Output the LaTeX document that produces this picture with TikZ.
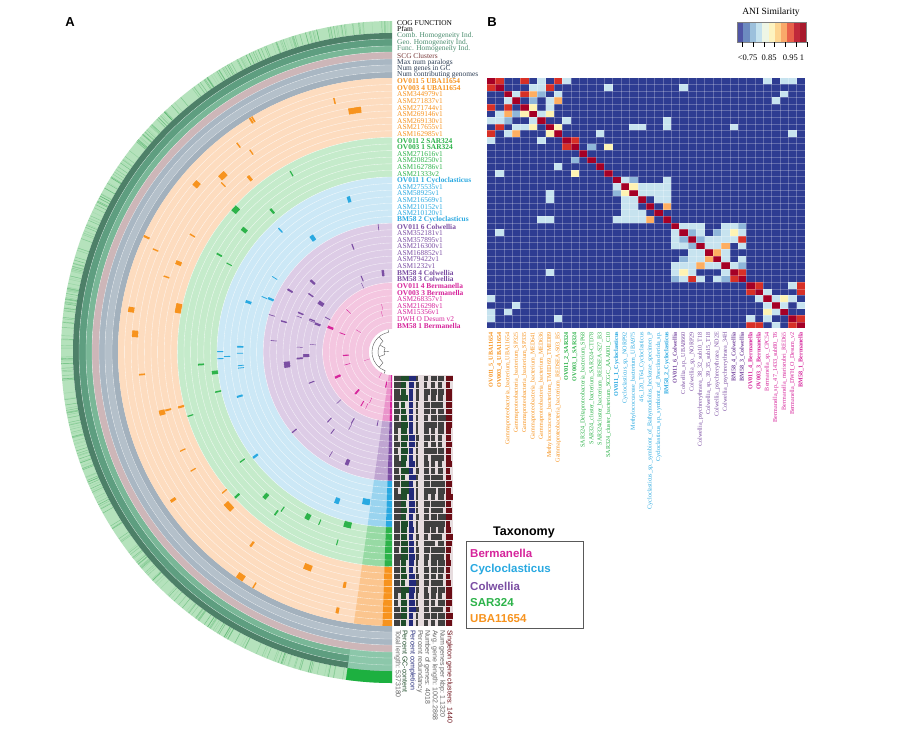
\documentclass[tikz,border=0pt]{standalone}
\usepackage{fontspec}
\setmainfont{Liberation Serif}
\setsansfont{Liberation Sans}
\definecolor{c0}{HTML}{F7931E}\definecolor{l0}{HTML}{FDDCBF}
\definecolor{c1}{HTML}{2DB34A}\definecolor{l1}{HTML}{C5EBCB}
\definecolor{c2}{HTML}{29A9E1}\definecolor{l2}{HTML}{CCE8F6}
\definecolor{c3}{HTML}{7B4EA3}\definecolor{l3}{HTML}{DDCCE6}
\definecolor{c4}{HTML}{D6249B}\definecolor{l4}{HTML}{F4C6E0}
\definecolor{navyh}{HTML}{2E3C92}
\definecolor{hlb}{HTML}{C7E3EF}\definecolor{hmb}{HTML}{8FB6D9}
\definecolor{hy}{HTML}{FEF3B3}\definecolor{ho}{HTML}{FDAE61}
\definecolor{hr}{HTML}{D73027}\definecolor{hdr}{HTML}{A50026}
\definecolor{teal}{HTML}{4A8D6E}\definecolor{slate}{HTML}{2D3E55}
\definecolor{maroonb}{HTML}{6B0D16}\definecolor{navyb}{HTML}{232A7A}
\definecolor{dgreenb}{HTML}{1F4D2A}
\definecolor{ga}{HTML}{4D8068}\definecolor{gb}{HTML}{5E9E80}\definecolor{gc}{HTML}{79B797}
\definecolor{scg}{HTML}{CDB6B8}\definecolor{gra}{HTML}{A9B7C3}\definecolor{grb}{HTML}{B4C0CA}
\definecolor{grc}{HTML}{A3B1BD}\definecolor{bgreen}{HTML}{1DB040}\definecolor{lgreen}{HTML}{8CC7AA}
\definecolor{scgt}{HTML}{7A3B3B}\definecolor{darkg}{HTML}{404040}\definecolor{barbg}{HTML}{E6DCDE}
\definecolor{outerbg}{HTML}{B5E2BC}\definecolor{outerln}{HTML}{3AA655}
\tikzset{
 rowlab/.style={anchor=west,inner sep=0pt,font=\fontsize{7.4}{7.4}\selectfont},
 collab/.style={anchor=east,rotate=90,inner sep=0pt,font=\fontsize{6.1}{6.1}\selectfont},
 barlab/.style={anchor=west,rotate=-90,inner sep=0pt,font=\sffamily\fontsize{7}{7}\selectfont},
 taxlab/.style={anchor=west,inner sep=0pt,font=\sffamily\bfseries\fontsize{11.5}{11.5}\selectfont},
 panel/.style={inner sep=0pt,font=\sffamily\bfseries\fontsize{13}{13}\selectfont}
}
\newcommand{\sect}[5]{\fill[#5] (-#1:#4) arc[start angle=-#1,end angle=-#2,radius=#4] -- (-#2:#3) arc[start angle=-#2,end angle=-#1,radius=#3] -- cycle;}
\begin{document}
\begin{tikzpicture}[x=1pt,y=-1pt]
\useasboundingbox (0,0) rectangle (900,740);
\fill[white] (0,0) rectangle (900,740);
\pgfmathsetseed{7}
% ================= panel A rings
\begin{scope}[shift={(392,352)}]
 \sect{90}{270}{319}{331}{outerbg}
 \foreach \k in {1,...,420}{
   \pgfmathsetmacro\a{90+180*rnd}
   \pgfmathsetmacro\o{0.1+0.45*rnd}
   \draw[outerln,opacity=\o,line width=0.45] (-\a:319) -- (-\a:331);
 }
 \sect{90}{270}{313}{319}{ga}
 \sect{90}{270}{306}{313}{gb}
 \sect{90}{270}{300}{306}{gc}
 \sect{90}{270}{293}{300}{scg}
 \sect{90}{270}{287}{293}{gra}
 \sect{90}{270}{280}{287}{grb}
 \sect{90}{270}{274}{280}{grc}
 \sect{262}{270}{319}{331}{bgreen}
 \sect{262}{270}{300}{319}{lgreen}
 \foreach \r in {280,287,293,300,306,313}{\draw[white,opacity=0.6,line width=0.3] (-90:\r) arc[start angle=-90,end angle=-270,radius=\r];}
 \sect{90}{270}{214.6}{274}{l0}
 \sect{90}{270}{175}{214.6}{l1}
 \sect{90}{270}{128.8}{175}{l2}
 \sect{90}{270}{69.4}{128.8}{l3}
 \sect{90}{270}{23.2}{69.4}{l4}
 \foreach \i in {0,...,37}{
   \pgfmathtruncatemacro\cl{(\i>8)+(\i>14)+(\i>21)+(\i>30)}
   \pgfmathsetmacro\ro{274-6.6*\i}\pgfmathsetmacro\ri{\ro-6.6}
   \sect{268}{270}{\ri}{\ro}{c\cl}
   \sect{262}{268}{\ri}{\ro}{c\cl,opacity=0.3}
 }
 \foreach \k in {1,...,120}{
   \pgfmathtruncatemacro\i{random(0,37)}
   \pgfmathsetmacro\a{95+165*rnd}
   \pgfmathsetmacro\sp{0.3+3.0*rnd^4}
   \pgfmathtruncatemacro\cl{(\i>8)+(\i>14)+(\i>21)+(\i>30)}
   \pgfmathsetmacro\ro{274-6.6*\i}\pgfmathsetmacro\ri{\ro-6.6}
   \pgfmathsetmacro\b{\a+\sp}
   \sect{\a}{\b}{\ri}{\ro}{c\cl}
 }
 \foreach \i in {1,...,37}{
   \pgfmathsetmacro\r{274-6.6*\i}
   \draw[white,opacity=0.75,line width=0.35] (-90:\r) arc[start angle=-90,end angle=-270,radius=\r];
 }
 \draw[gray!70!black,line width=0.4] (-100:20) arc[start angle=-100,end angle=-250,radius=20]
   (-130:14) arc[start angle=-130,end angle=-230,radius=14]
   (-150:8) arc[start angle=-150,end angle=-200,radius=8]
   (-100:20)--(-100:23) (-250:20)--(-250:23) (-130:14)--(-130:20) (-230:14)--(-230:20)
   (-150:8)--(-150:14) (-200:8)--(-200:14) (-175:3)--(-175:8);
\end{scope}
% ================= bars
\foreach \j/\col/\mx in {0/darkg/1,1/dgreenb/1,2/navyb/1,3/darkg/0.35,4/darkg/1,5/darkg/1,6/darkg/1,7/maroonb/1}{
  \pgfmathsetmacro\xa{394+7.4*\j}
  \fill[barbg] (\xa,375.2) rectangle ++(7.4,251);
  \foreach \i in {0,...,37}{
    \pgfmathsetmacro\w{7.4*\mx*(0.5+0.5*rnd)}
    \pgfmathsetmacro\yb{626-6.6*\i}
    \fill[\col] (\xa,\yb-6.2) rectangle ++(\w,5.8);
  }
}
\foreach \t/\c [count=\n from 0] in {{Total length: 5373180}/gray!80!black,{Percent GC-content}/dgreenb,{Percent completion}/navyb,{Percent redundancy}/gray!80!black,{Number of genes: 4018}/gray!80!black,{Avg. gene length: 1002.2868}/gray!80!black,{Num genes per kbp: 1.1320}/gray!80!black,{Singleton gene clusters: 1440}/maroonb}{
  \node[barlab,text=\c] (bl\n) at ({397.7+7.4*\n},630) {\t};
}
% ================= row labels
\foreach \t/\c/\yy [count=\n] in {{COG FUNCTION}/black/22.7,{Pfam}/black/28.5,{Comb. Homogeneity Ind.}/teal/35.7,{Geo. Homogeneity Ind.}/teal/42.5,{Func. Homogeneity Ind.}/teal/49,{SCG Clusters}/scgt/55.7,{Max num paralogs}/slate/62.3,{Num genes in GC}/slate/68.7,{Num contributing genomes}/slate/75}{
  \node[rowlab,text=\c] (ol\n) at (397,\yy) {\t};
}
\foreach \t/\c [count=\n from 0] in {
{\textbf{OV011 5 UBA11654}}/c0,{\textbf{OV003 4 UBA11654}}/c0,ASM344979v1/c0,ASM271837v1/c0,ASM271744v1/c0,ASM269146v1/c0,ASM269130v1/c0,ASM217655v1/c0,ASM162985v1/c0,
{\textbf{OV011 2 SAR324}}/c1,{\textbf{OV003 1 SAR324}}/c1,ASM271616v1/c1,ASM208250v1/c1,ASM162786v1/c1,ASM21333v2/c1,
{\textbf{OV011 1 Cycloclasticus}}/c2,ASM275535v1/c2,ASM58925v1/c2,ASM216569v1/c2,ASM210152v1/c2,ASM210120v1/c2,{\textbf{BM58 2 Cycloclasticus}}/c2,
{\textbf{OV011 6 Colwellia}}/c3,ASM352181v1/c3,ASM357895v1/c3,ASM216300v1/c3,ASM168852v1/c3,ASM79422v1/c3,ASM1232v1/c3,{\textbf{BM58 4 Colwellia}}/c3,{\textbf{BM58 3 Colwellia}}/c3,
{\textbf{OV011 4 Bermanella}}/c4,{\textbf{OV003 3 Bermanella}}/c4,ASM268357v1/c4,ASM216298v1/c4,ASM15356v1/c4,{DWH O Desum v2}/c4,{\textbf{BM58 1 Bermanella}}/c4}{
  \node[rowlab,text=\c] (gl\n) at (397,{81.3+6.6*\n}) {\t};
}
% ================= heatmap
\fill[navyh] (487,77.5) rectangle (805,328.3);
\foreach \s/\e/\pl in {0/9/0.55,9/15/0.75,15/22/0.3,22/31/0.3,31/38/0.5}{
  \pgfmathtruncatemacro\ee{\e-1}
  \foreach \r in {\s,...,\ee}{
    \foreach \c in {\r,...,\ee}{
      \pgfmathsetmacro\u{rnd}
      \pgfmathtruncatemacro\k{(\u>\pl)+(\u>0.78)+(\u>0.87)+(\u>0.93)+(\u>0.97)}
      \ifcase\k \def\hc{navyh}\or\def\hc{hlb}\or\def\hc{hmb}\or\def\hc{hy}\or\def\hc{ho}\else\def\hc{hr}\fi
      \fill[\hc] ({487+8.368*\c},{77.5+6.6*\r}) rectangle ++(8.368,6.6);
      \fill[\hc] ({487+8.368*\r},{77.5+6.6*\c}) rectangle ++(8.368,6.6);
    }
  }
}
\foreach \k in {1,...,18}{
  \pgfmathtruncatemacro\r{random(0,37)}\pgfmathtruncatemacro\c{random(0,8)}
  \fill[hlb] ({487+8.368*\c},{77.5+6.6*\r}) rectangle ++(8.368,6.6);
  \fill[hlb] ({487+8.368*\r},{77.5+6.6*\c}) rectangle ++(8.368,6.6);
}
\foreach \a/\b in {0/1,9/10,31/32,29/30,31/37,32/37,2/4}{
  \fill[hr] ({487+8.368*\a},{77.5+6.6*\b}) rectangle ++(8.368,6.6);
  \fill[hr] ({487+8.368*\b},{77.5+6.6*\a}) rectangle ++(8.368,6.6);
}
\foreach \r in {0,...,37}{\fill[hdr] ({487+8.368*\r},{77.5+6.6*\r}) rectangle ++(8.368,6.6);}
\foreach \r in {1,...,37}{
  \draw[white,opacity=0.25,line width=0.25] (487,{77.5+6.6*\r}) -- (805,{77.5+6.6*\r});
  \draw[white,opacity=0.25,line width=0.25] ({487+8.368*\r},77.5) -- ({487+8.368*\r},328.3);
}
\foreach \t/\c [count=\n from 0] in {
{\textbf{OV011\_5\_UBA11654}}/c0,{\textbf{OV003\_4\_UBA11654}}/c0,Gammaproteobacteria\_bacterium\_UBA11654/c0,Gammaproteobacteria\_bacterium\_SP325/c0,Gammaproteobacteria\_bacterium\_SP335/c0,Gammaproteobacteria\_bacterium\_MED641/c0,Gammaproteobacteria\_bacterium\_MED636/c0,Methylococcaceae\_bacterium\_TMED69\_TMED89/c0,Gammaproteobacteria\_bacterium\_REDSEA-S03\_B5/c0,
{\textbf{OV011\_2\_SAR324}}/c1,{\textbf{OV003\_1\_SAR324}}/c1,SAR324\_Deltaproteobacteria\_bacterium\_SP68/c1,SAR324\_cluster\_bacterium\_SAR324-CTD78/c1,SAR324cluster\_bacterium\_REDSEA-S27\_B3/c1,SAR324\_cluster\_bacterium\_SCGC\_AAA001\_C10/c1,
{\textbf{OV011\_1\_Cycloclasticus}}/c2,Cycloclasticus\_sp.\_NORP92/c2,Methylococcaceae\_bacterium\_UBA975/c2,46\_120\_T64\_Cycloclasticus/c2,Cycloclasticus\_sp.\_symbiont\_of\_Bathymodiolus\_heckerae\_specimen\_P/c2,Cycloclasticus\_sp.\_symbiont\_of\_Poecilosclerida\_sp./c2,{\textbf{BM58\_2\_Cycloclasticus}}/c2,
{\textbf{OV011\_6\_Colwellia}}/c3,Colwellia\_sp.\_UBA8660/c3,Colwellia\_sp.\_NORP29/c3,Colwellia\_psychrerythraea\_38\_32\_sub10\_T18/c3,Colwellia\_sp.\_39\_35\_sub15\_T18/c3,Colwellia\_psychrerythraea\_ND2E/c3,Colwellia\_psychrerythraea\_34H/c3,{\textbf{BM58\_4\_Colwellia}}/c3,{\textbf{BM58\_3\_Colwellia}}/c3,
{\textbf{OV011\_4\_Bermanella}}/c4,{\textbf{OV003\_3\_Bermanella}}/c4,Bermanella\_sp.\_CPC54/c4,Bermanella\_sp.\_47\_1433\_sub80\_T6/c4,Bermanella\_marisrubri\_RED65/c4,Bermanella\_DWH\_O\_Desum\_v2/c4,{\textbf{BM58\_1\_Bermanella}}/c4}{
  \node[collab,text=\c] (hc\n) at ({491.2+8.368*\n},332) {\t};
}
% ================= colour bar
\foreach \cc [count=\n from 0] in {5055A5,6D8BC0,9CC0DC,C5E2EE,EEF6E6,FDF3C0,FDD490,F9A86A,E8604A,C0283A,A8192C}{
  \definecolor{tmpc}{HTML}{\cc}
  \fill[tmpc] ({737+6.3*\n},22) rectangle ++(6.3,20);
}
\draw[gray,line width=0.3] (737,22) rectangle (806.3,42);
\foreach \n in {0,...,6}{\draw[black,line width=0.6] ({742+10.9*\n},42) -- ++(0,5);}
\node[inner sep=0pt,font=\fontsize{9.5}{9.5}\selectfont] (anit) at (771,12) {ANI Similarity};
\node[inner sep=0pt,font=\fontsize{8.5}{8.5}\selectfont] (anil) at (771,58) {<0.75~~0.85~~~0.95 1};
% ================= taxonomy legend
\node[inner sep=0pt,font=\sffamily\bfseries\fontsize{12.5}{12.5}\selectfont] (taxt) at (524,532) {Taxonomy};
\draw[gray!70!black,line width=0.6] (466,541) rectangle (583,628);
\node[taxlab,text=c4] (t1) at (470,553) {Bermanella};
\node[taxlab,text=c2] (t2) at (470,570) {Cycloclasticus};
\node[taxlab,text=c3] (t3) at (470,586) {Colwellia};
\node[taxlab,text=c1] (t4) at (470,603) {SAR324};
\node[taxlab,text=c0] (t5) at (470,619) {UBA11654};
\node[panel] (pa) at (70,22) {A};
\node[panel] (pb) at (492,22) {B};
\end{tikzpicture}
\end{document}
